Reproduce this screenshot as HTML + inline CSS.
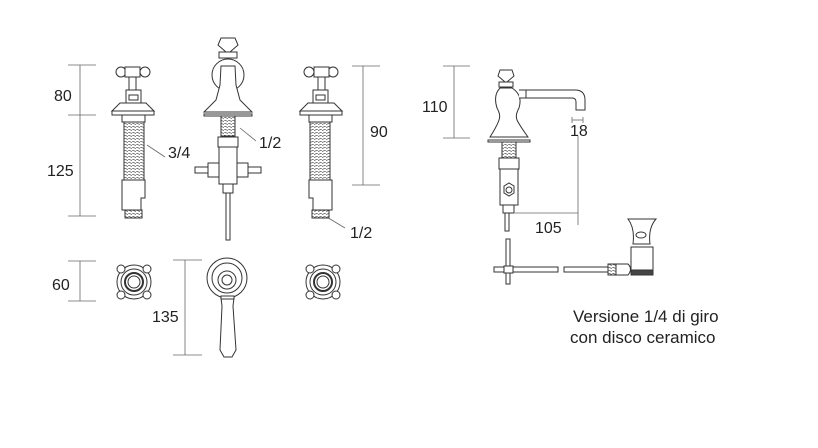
<!DOCTYPE html>
<html><head><meta charset="utf-8"><style>
html,body{margin:0;padding:0;background:#fff;width:818px;height:448px;overflow:hidden}
svg{display:block}
text{font-family:"Liberation Sans",sans-serif;font-size:16px;fill:#222}
text.c{font-size:17px}
</style></head><body>
<svg width="818" height="448" viewBox="0 0 818 448">
<defs>
<pattern id="th" width="4" height="3" patternUnits="userSpaceOnUse"><rect width="4" height="3" fill="#fff"/><line x1="0" y1="0" x2="4" y2="1.5" stroke="#555" stroke-width="0.8"/></pattern>
<g id="tap">
 <circle cx="-11" cy="72" r="5" fill="#fff" stroke="#333"/>
 <circle cx="13" cy="72" r="5" fill="#fff" stroke="#333"/>
 <rect x="-7" y="67" width="15" height="10" fill="#fff" stroke="#333"/>
 <rect x="-3" y="77" width="7" height="13" fill="#fff" stroke="#333"/>
 <rect x="-6" y="90" width="15" height="13" fill="#fff" stroke="#333"/>
 <rect x="-3" y="95" width="9" height="5" fill="#fff" stroke="#333"/>
 <path d="M-12 103 L14 103 L22 111 L-20 111 Z" fill="#fff" stroke="#333"/>
 <rect x="-20" y="111" width="42" height="4" fill="#fff" stroke="#333"/>
 <rect x="-10" y="115" width="23" height="7" fill="#fff" stroke="#333"/>
 <rect x="-8" y="122" width="20" height="58" fill="url(#th)" stroke="#333"/>
 <path d="M-10 180 L13 180 L13 198 L9 198 L9 210 L-10 210 Z" fill="#fff" stroke="#333"/>
 <rect x="-7" y="210" width="17" height="8" fill="url(#th)" stroke="#333"/>
</g>
<g id="cross">
 <circle r="17" fill="none" stroke="#333"/>
 <circle r="13" fill="none" stroke="#333"/>
 <circle r="9" fill="none" stroke="#333" stroke-width="2"/>
 <circle r="6" fill="#fff" stroke="#333"/>
 <circle cx="-13" cy="-13" r="4" fill="#fff" stroke="#333"/>
 <circle cx="13" cy="-13" r="4" fill="#fff" stroke="#333"/>
 <circle cx="-13" cy="13" r="4" fill="#fff" stroke="#333"/>
 <circle cx="13" cy="13" r="4" fill="#fff" stroke="#333"/>
</g>
</defs>
<g stroke="#666" stroke-width="0.8" fill="none">
 <line x1="80" y1="65" x2="80" y2="216"/><line x1="68" y1="65" x2="96" y2="65"/><line x1="68" y1="115" x2="96" y2="115"/><line x1="68" y1="216" x2="96" y2="216"/>
 <line x1="363" y1="66" x2="363" y2="185"/><line x1="352" y1="66" x2="380" y2="66"/><line x1="352" y1="185" x2="380" y2="185"/>
 <line x1="454" y1="66" x2="454" y2="138"/><line x1="443" y1="66" x2="470" y2="66"/><line x1="443" y1="138" x2="470" y2="138"/>
 <line x1="80" y1="261" x2="80" y2="301"/><line x1="68" y1="261" x2="96" y2="261"/><line x1="68" y1="301" x2="96" y2="301"/>
 <line x1="185" y1="260" x2="185" y2="355"/><line x1="173" y1="260" x2="202" y2="260"/><line x1="173" y1="355" x2="202" y2="355"/>
 <line x1="578" y1="136" x2="578" y2="225"/><line x1="515" y1="213" x2="578" y2="213"/>
 <line x1="572" y1="117" x2="572" y2="123"/><line x1="583" y1="117" x2="583" y2="123"/><line x1="572" y1="120" x2="583" y2="120"/>
 <line x1="147" y1="145" x2="165" y2="157"/><line x1="240" y1="128" x2="256" y2="141"/><line x1="325" y1="216" x2="345" y2="228"/>
</g>
<use href="#tap" x="132"/>
<g transform="translate(454,0) scale(-1,1)"><use href="#tap" x="132"/></g>
<g stroke="#333" fill="#fff" stroke-width="1">
 <path d="M221 38 L235 38 L238 45 L230 52 L226 52 L218 45 Z"/>
 <rect x="219" y="52" width="18" height="6"/>
 <circle cx="228" cy="75" r="16"/>
 <path d="M221 66 L235 66 L236 85 L240 100 L252 112 L204 112 L216 100 L220 85 Z"/>
 <rect x="204" y="114" width="48" height="2"/>
 <rect x="221" y="116" width="14" height="20" fill="url(#th)"/>
 <rect x="218" y="137" width="20" height="10"/>
 <rect x="219" y="147" width="18" height="37"/>
 <rect x="208" y="163" width="11" height="14"/><rect x="195" y="167" width="13" height="6"/>
 <rect x="237" y="163" width="11" height="14"/><rect x="248" y="167" width="13" height="6"/>
 <rect x="223" y="184" width="10" height="9"/>
 <rect x="226" y="193" width="4" height="47"/>
</g>
<use href="#cross" x="134" y="282"/>
<use href="#cross" x="323" y="282"/>
<g stroke="#333" fill="#fff">
 <circle cx="227" cy="278" r="20"/><circle cx="227" cy="278" r="15"/><circle cx="227" cy="280" r="9"/><circle cx="227" cy="280" r="5"/>
 <path d="M221 298 L234 298 L233 306 L236 350 L232 357 L224 357 L220 350 L222 306 Z"/>
 <rect x="221" y="296" width="13" height="3"/>
</g>
<g stroke="#333" fill="#fff">
 <path d="M500 70 L512 70 L514 76 L507 82 L505 82 L498 76 Z"/>
 <rect x="499" y="82" width="14" height="5"/>
 <path d="M500 88 L512 88 Q523 95 519 108 Q515 115 517 120 Q520 126 528 137 L490 137 Q497 126 499 120 Q501 115 497 108 Q493 95 500 88 Z"/>
 <path d="M519 90 L575 90 Q585 90 585 100 L585 110 L576 110 L576 102 Q576 98 572 98 L519 98"/>
 <line x1="526" y1="90" x2="526" y2="98"/>
 <rect x="488" y="140" width="42" height="2"/>
 <rect x="502" y="142" width="14" height="16" fill="url(#th)"/>
 <rect x="499" y="158" width="20" height="11"/>
 <rect x="500" y="169" width="18" height="36"/>
 <path d="M504 186 L509 183 L514 186 L514 193 L509 196 L504 193 Z"/><circle cx="509" cy="190" r="3"/>
 <rect x="503" y="205" width="11" height="8"/>
 <rect x="505" y="213" width="4" height="18"/>
 <rect x="506" y="239" width="4" height="45"/>
 <rect x="494" y="267" width="64" height="5"/>
 <rect x="504" y="266" width="9" height="7"/>
 <rect x="564" y="267" width="44" height="5"/>
 <rect x="608" y="264" width="8" height="11" fill="url(#th)"/>
 <path d="M616 264 L628 264 Q633 269 628 275 L616 275 Z"/>
 <path d="M628 219 L656 219 Q648 228 650 244 L633 244 Q635 228 628 219 Z"/>
 <ellipse cx="641" cy="235" rx="5" ry="3"/>
 <rect x="631" y="247" width="22" height="23"/>
 <rect x="631" y="270" width="22" height="5" fill="#444"/>
</g>
<text x="54" y="101">80</text>
<text x="47" y="176">125</text>
<text x="168" y="158">3/4</text>
<text x="259" y="148">1/2</text>
<text x="370" y="137">90</text>
<text x="350" y="238">1/2</text>
<text x="52" y="290">60</text>
<text x="152" y="322">135</text>
<text x="422" y="112">110</text>
<text x="570" y="136">18</text>
<text x="535" y="233">105</text>
<text class="c" x="573" y="322">Versione 1/4 di giro</text>
<text class="c" x="570" y="343">con disco ceramico</text>
</svg>
</body></html>
